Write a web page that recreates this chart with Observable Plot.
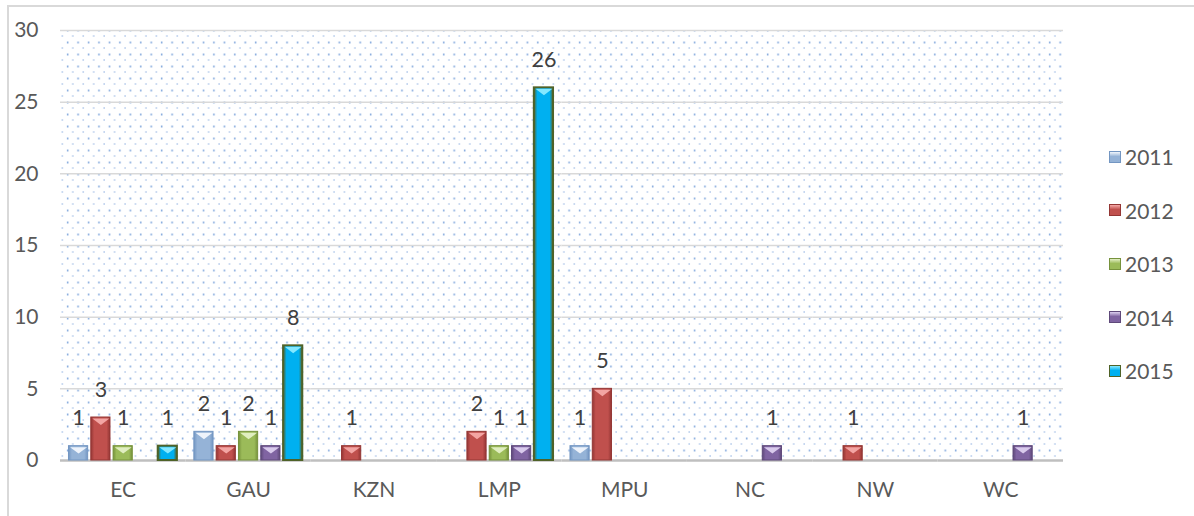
<!DOCTYPE html>
<html>
<head>
<meta charset="utf-8">
<script src="https://cdn.jsdelivr.net/npm/d3@7"></script>
<script src="https://cdn.jsdelivr.net/npm/@observablehq/plot@0.6"></script>
<style>
  html, body { margin: 0; padding: 0; background: #fff; }
  #wrap { position: relative; width: 1194px; height: 516px; overflow: hidden; font-family: Lato, "Open Sans", sans-serif; }
  #border { position: absolute; left: 7px; top: 5px; right: -10px; bottom: -10px; border-left: 2px solid #D9D9D9; border-top: 2px solid #D9D9D9; pointer-events: none; }
  #legend { position: absolute; left: 1109px; top: 130px; }
  .li { display: flex; align-items: center; height: 53.5px; font-size: 21px; color: #595959; }
  .sw { width: 12px; height: 12px; margin-right: 4px; box-sizing: border-box; }
</style>
</head>
<body>
<div id="wrap"><div id="chart"></div><div id="legend"></div><div id="border"></div></div>
<script>
const regions = ["EC", "GAU", "KZN", "LMP", "MPU", "NC", "NW", "WC"];
const years = ["2011", "2012", "2013", "2014", "2015"];
const v2011 = [1, 2, 0, 0, 1, 0, 0, 0];
const v2012 = [3, 1, 1, 2, 5, 0, 1, 0];
const v2013 = [1, 2, 0, 1, 0, 0, 0, 0];
const v2014 = [0, 1, 0, 1, 0, 1, 0, 1];
const v2015 = [1, 8, 0, 26, 0, 0, 0, 0];
const yTicks = [0, 5, 10, 15, 20, 25, 30];

const baseColors = ["#95B3D7", "#C0504D", "#9BBB59", "#8064A2", "#00B0F0"];
const darkColors = ["#7396C2", "#943634", "#76923C", "#5F497A", "#4F6228"];
const lightColors = ["#F2F7FD", "#F6AAA8", "#E4F0C6", "#DDD0F0", "#8AEBFF"];

const series = [v2011, v2012, v2013, v2014, v2015];
const data = [];
regions.forEach((r, i) => years.forEach((y, j) => {
  const v = series[j][i];
  if (v > 0) data.push({region: r, year: y, value: v});
}));

const topTri = {
  draw(ctx, size) {
    const r = Math.sqrt(size / Math.PI);
    ctx.moveTo(-r, 0);
    ctx.lineTo(r, 0);
    ctx.lineTo(0, r * 0.75);
    ctx.closePath();
  }
};

const font = 'Lato, "Open Sans", sans-serif';
const W = 1194, mL = 60, mR = 131;
const facetW = (W - mL - mR) / regions.length;

const chart = Plot.plot({
  width: W,
  height: 516,
  marginLeft: mL,
  marginRight: mR,
  marginTop: 30,
  marginBottom: 56,
  style: {fontFamily: font, fontSize: "21px", color: "#595959", background: "transparent"},
  fx: {domain: regions, padding: 0, round: false, axis: "bottom", label: null, tickSize: 0, tickPadding: 22},
  x: {domain: years, paddingInner: 0.14, paddingOuter: 0.38, round: false, axis: null},
  y: {domain: [0, 30], ticks: yTicks, label: null, tickSize: 0, tickPadding: 22},
  color: {type: "ordinal", domain: years, range: years.map(y => `url(#g${y})`)},
  marks: [
    Plot.frame({fill: "url(#dots)", stroke: null}),
    Plot.ruleY(yTicks.slice(1), {stroke: "#D9D9D9", strokeWidth: 1.5}),
    Plot.ruleY([0], {stroke: "#BFBFBF", strokeWidth: 2.5}),
    Plot.barY(data, {fx: "region", x: "year", y: "value", fill: "year",
      stroke: d => darkColors[years.indexOf(d.year)], strokeWidth: d => d.year === "2015" ? 2 : 1}),
    Plot.dot(data, {fx: "region", x: "year", y: "value", symbol: topTri, r: 8.5, dy: 1,
      fill: d => lightColors[years.indexOf(d.year)], stroke: null, fillOpacity: 0.95}),
    Plot.text(data, {fx: "region", x: "year", y: "value", text: d => String(d.value),
      lineAnchor: "bottom", dy: -21, fill: "#404040", fontSize: 21.5})
  ]
});

// gradients and dot pattern
const ns = "http://www.w3.org/2000/svg";
const defs = document.createElementNS(ns, "defs");
const pw = facetW / 12;
let html = `<pattern id="dots" width="${pw}" height="12" patternUnits="userSpaceOnUse">
  <rect x="${pw * 0.35}" y="5.2" width="1.6" height="1.6" fill="#6F9AD8"/>
  <rect x="${pw * 0.85}" y="11.2" width="1.6" height="1.6" fill="#6F9AD8"/></pattern>`;
years.forEach((y, j) => {
  html += `<linearGradient id="g${y}" x1="0" x2="1" y1="0" y2="0">
    <stop offset="0" stop-color="${darkColors[j]}"/>
    <stop offset="0.18" stop-color="${baseColors[j]}"/>
    <stop offset="0.82" stop-color="${baseColors[j]}"/>
    <stop offset="1" stop-color="${darkColors[j]}"/></linearGradient>`;
});
defs.innerHTML = html;
chart.insertBefore(defs, chart.firstChild);

document.getElementById("chart").appendChild(chart);

const legend = document.getElementById("legend");
years.forEach((y, j) => {
  const it = document.createElement("div");
  it.className = "li";
  it.innerHTML = `<span class="sw" style="background:linear-gradient(180deg, ${lightColors[j]} 0%, ${baseColors[j]} 45%, ${baseColors[j]} 100%);border:1.5px solid ${darkColors[j]}"></span><span>${y}</span>`;
  legend.appendChild(it);
});
</script>
</body>
</html>
